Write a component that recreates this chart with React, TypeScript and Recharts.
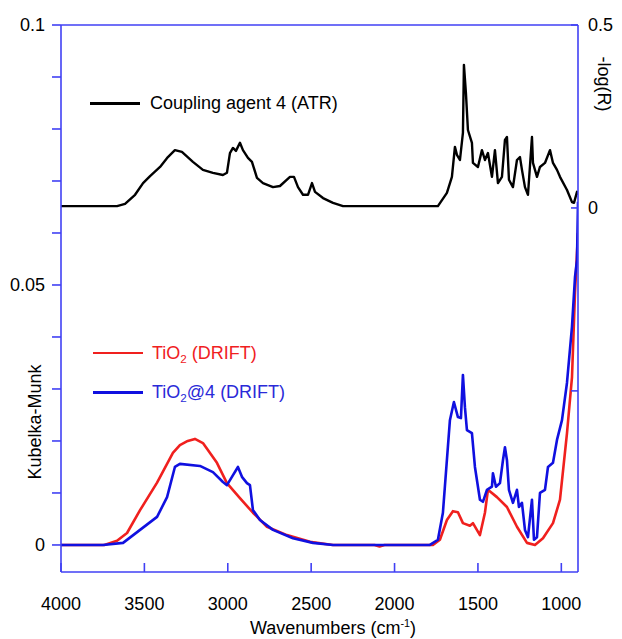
import React from "react";
import { LineChart, Line, XAxis, YAxis, ReferenceLine } from "recharts";

// wavenumbers (cm-1) and values
const atrWn = [
  4000, 3720, 3664, 3616, 3556, 3508, 3466, 3406, 3359, 3317, 3275, 3209, 3149, 3089, 3029, 3005,
  2987, 2969, 2951, 2927, 2909, 2879, 2855, 2825, 2789, 2729, 2687, 2627, 2603, 2579, 2549, 2519,
  2495, 2477, 2429, 2369, 2309, 1740, 1686, 1656, 1638, 1626, 1608, 1590, 1584, 1572, 1560, 1536,
  1530, 1500, 1476, 1458, 1440, 1416, 1398, 1380, 1356, 1338, 1326, 1314, 1290, 1266, 1248, 1236,
  1218, 1200, 1176, 1170, 1146, 1128, 1098, 1068, 1050, 1026, 1008, 966, 936, 924, 906, 900,
];
const atrVal = [
  0.005, 0.005, 0.005, 0.011, 0.036, 0.068, 0.087, 0.112, 0.139, 0.158, 0.153, 0.126, 0.104, 0.096, 0.09, 0.096,
  0.15, 0.164, 0.156, 0.178, 0.158, 0.137, 0.126, 0.082, 0.068, 0.057, 0.06, 0.085, 0.085, 0.057, 0.036, 0.036,
  0.068, 0.044, 0.027, 0.014, 0.005, 0.005, 0.041, 0.085, 0.167, 0.145, 0.131, 0.205, 0.391, 0.314, 0.213, 0.178,
  0.123, 0.112, 0.158, 0.131, 0.15, 0.085, 0.158, 0.068, 0.085, 0.186, 0.194, 0.077, 0.057, 0.131, 0.139, 0.104,
  0.057, 0.036, 0.194, 0.123, 0.085, 0.112, 0.123, 0.158, 0.123, 0.104, 0.085, 0.049, 0.016, 0.014, 0.044, 0.036,
];

const tio2Wn = [
  4000, 3740, 3664, 3604, 3526, 3424, 3329, 3287, 3240, 3197, 3149, 3065, 3005, 2927, 2849, 2765,
  2645, 2507, 2369, 2120, 2090, 2060, 1770, 1728, 1686, 1650, 1620, 1590, 1548, 1530, 1488, 1458,
  1440, 1386, 1326, 1266, 1206, 1158, 1110, 1050, 1008, 966, 936, 918, 900,
];
const tio2Val = [
  0, 0, 0.0008, 0.0023, 0.0067, 0.012, 0.0177, 0.0192, 0.02, 0.0204, 0.0196, 0.0158, 0.0119, 0.009, 0.0062, 0.0035,
  0.0019, 0.0006, 0, 0, -0.0003, 0, 0, 0.001, 0.0048, 0.0065, 0.0063, 0.0042, 0.0037, 0.0042, 0.0019, 0.0062,
  0.0106, 0.0092, 0.0073, 0.0035, 0.0004, 0, 0.0013, 0.0042, 0.0087, 0.0215, 0.0323, 0.0485, 0.06,
];

const tio2At4Wn = [
  4000, 3748, 3628, 3526, 3424, 3364, 3317, 3287, 3167, 3089, 3029, 3005, 2975, 2939, 2915, 2885,
  2867, 2849, 2807, 2729, 2609, 2489, 2369, 1788, 1740, 1710, 1668, 1644, 1620, 1602, 1590, 1578,
  1566, 1536, 1518, 1488, 1470, 1446, 1416, 1410, 1392, 1368, 1350, 1338, 1326, 1314, 1290, 1266,
  1254, 1236, 1218, 1200, 1176, 1164, 1146, 1128, 1098, 1080, 1050, 1026, 996, 966, 936, 918, 906, 900,
];
const tio2At4Val = [
  0, 0, 0.0004, 0.0029, 0.0054, 0.0092, 0.015, 0.0156, 0.0152, 0.014, 0.0121, 0.0115, 0.0131, 0.015, 0.0131, 0.0119,
  0.0115, 0.0067, 0.0048, 0.0029, 0.0013, 0.0004, 0, 0, 0.001, 0.0062, 0.024, 0.0275, 0.0246, 0.0244, 0.0327, 0.0265,
  0.0221, 0.0215, 0.015, 0.0087, 0.0083, 0.0106, 0.0112, 0.0138, 0.0112, 0.0119, 0.0163, 0.0188, 0.0163, 0.0106, 0.0081, 0.0106,
  0.0073, 0.0081, 0.0029, 0.0015, 0.0087, 0.001, 0.0015, 0.01, 0.0106, 0.015, 0.0158, 0.0202, 0.024, 0.0312, 0.042, 0.0515, 0.0548, 0.066,
];

const xTicks = [4000, 3500, 3000, 2500, 2000, 1500, 1000];
const kmTicks = [0, 0.01, 0.02, 0.03, 0.04, 0.05, 0.06, 0.07, 0.08, 0.09, 0.1];
const kmLabels = ["0", "0.05", "0.1"];
const logTicks = [0.5, 0, -0.5];
const logLabels = ["0.5", "0"];

const toPoints = (wn: number[], val: number[]) => wn.map((w, i) => ({ wn: w, v: val[i] }));

const atrData = toPoints(atrWn, atrVal);
const tio2Data = toPoints(tio2Wn, tio2Val);
const tio2At4Data = toPoints(tio2At4Wn, tio2At4Val);

const FONT = "'Liberation Sans', Arial, sans-serif";
const FRAME = "#4040f4";
const RED = "#f0201e";
const BLUE = "#1010e0";

const tickStyle = { fill: "#000", fontSize: 18, fontFamily: FONT };
const frameLine = { stroke: FRAME, strokeWidth: 1.6 };

const pickLabel = (labels: string[]) => (v: number) => {
  const s = String(Math.round(v * 1000) / 1000);
  return labels.includes(s) ? s : "";
};

const abs = (left: number, top: number, extra: React.CSSProperties = {}): React.CSSProperties => ({
  position: "absolute",
  left,
  top,
  whiteSpace: "nowrap",
  lineHeight: 1,
  ...extra,
});

const Sub2 = () => (
  <sub style={{ fontSize: "0.65em", verticalAlign: "-0.3em", lineHeight: 0 }}>2</sub>
);

export default function App() {
  return (
    <div
      style={{
        position: "absolute",
        left: 0,
        top: 0,
        width: 622,
        height: 639,
        background: "#fff",
        fontFamily: FONT,
        overflow: "hidden",
      }}
    >
      <LineChart width={622} height={639} margin={{ top: 25, right: 0, bottom: 0, left: 0 }}>
        <XAxis
          dataKey="wn"
          type="number"
          domain={[900, 4000]}
          reversed
          allowDataOverflow
          ticks={xTicks}
          interval={0}
          height={67}
          tickSize={-9}
          tickMargin={34}
          axisLine={frameLine}
          tickLine={frameLine}
          tick={tickStyle}
        />
        <YAxis
          yAxisId="left"
          type="number"
          domain={[-0.0052, 0.1]}
          allowDataOverflow
          ticks={kmTicks}
          interval={0}
          width={61}
          tickSize={9}
          tickMargin={7}
          tickFormatter={pickLabel(kmLabels)}
          axisLine={frameLine}
          tickLine={frameLine}
          tick={tickStyle}
        />
        <YAxis
          yAxisId="right"
          orientation="right"
          type="number"
          domain={[-0.995, 0.5]}
          allowDataOverflow
          ticks={logTicks}
          interval={0}
          width={44}
          tickSize={-7}
          tickMargin={17}
          tickFormatter={pickLabel(logLabels)}
          axisLine={frameLine}
          tickLine={frameLine}
          tick={tickStyle}
        />
        <ReferenceLine yAxisId="left" y={0.1} stroke={FRAME} strokeWidth={1.6} ifOverflow="visible" />
        <Line
          yAxisId="right"
          data={atrData}
          dataKey="v"
          type="linear"
          stroke="#000"
          strokeWidth={2.4}
          strokeLinejoin="round"
          dot={false}
          isAnimationActive={false}
        />
        <Line
          yAxisId="left"
          data={tio2Data}
          dataKey="v"
          type="linear"
          stroke={RED}
          strokeWidth={2.6}
          strokeLinejoin="round"
          dot={false}
          isAnimationActive={false}
        />
        <Line
          yAxisId="left"
          data={tio2At4Data}
          dataKey="v"
          type="linear"
          stroke={BLUE}
          strokeWidth={2.6}
          strokeLinejoin="round"
          dot={false}
          isAnimationActive={false}
        />
      </LineChart>

      {/* legends */}
      <div style={abs(90, 102, { width: 50, height: 2.5, background: "#000" })} />
      <div style={abs(150, 103, { fontSize: 18, transform: "translateY(-50%)", color: "#000" })}>
        Coupling agent 4 (ATR)
      </div>
      <div style={abs(93, 352, { width: 50, height: 2, background: RED })} />
      <div style={abs(152, 353, { fontSize: 18, transform: "translateY(-50%)", color: RED })}>
        TiO<Sub2 /> (DRIFT)
      </div>
      <div style={abs(93, 391, { width: 50, height: 3, background: BLUE })} />
      <div style={abs(152, 392, { fontSize: 18, transform: "translateY(-50%)", color: "#2a2ad8" })}>
        TiO<Sub2 />@4 (DRIFT)
      </div>

      {/* axis titles */}
      <div style={abs(333, 628, { fontSize: 18, transform: "translate(-50%, -50%)" })}>
        Wavenumbers (cm<sup style={{ fontSize: "0.6em", lineHeight: 0 }}>-1</sup>)
      </div>
      <div style={abs(35, 422, { fontSize: 18, transform: "translate(-50%, -50%) rotate(-90deg)" })}>
        Kubelka-Munk
      </div>
      <div style={abs(604, 84, { fontSize: 18, transform: "translate(-50%, -50%) rotate(90deg)" })}>
        -log(R)
      </div>
    </div>
  );
}
